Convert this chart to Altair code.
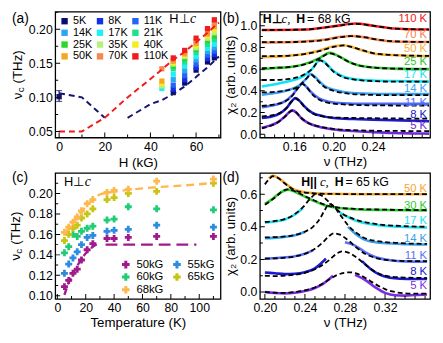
import altair as alt
import pandas as pd

FONT = "Liberation Sans"
SERIF = "Liberation Serif"

# ---------------- panel (a) : nu_c vs H ----------------
A_TEMPS = ["5K", "8K", "11K", "14K", "17K", "21K", "25K", "35K", "40K", "50K", "70K", "110K"]
A_COLORS = ["#0c0c6e", "#1430e6", "#2266f2", "#2ea4f4", "#1ff0f2", "#1fe08e",
            "#2ed62a", "#b6f07e", "#f2ee22", "#f5a623", "#f7864f", "#ee1c1c"]
A_FIELDS = [45, 50, 55, 60, 65, 68]
A_5K = [None, 0.107, 0.121, 0.140, 0.152, 0.158]
A_8K = [None, 0.112, 0.126, 0.144, 0.157, 0.163]
A_11K = [None, 0.118, 0.132, 0.149, 0.162, 0.168]
A_14K = [None, 0.126, 0.139, 0.155, 0.167, 0.173]
A_17K = [0.113, 0.134, 0.146, 0.160, 0.172, 0.178]
A_21K = [None, 0.142, 0.152, 0.166, 0.178, 0.185]
A_25K = [None, 0.146, 0.157, 0.170, 0.183, 0.190]
A_35K = [0.117, 0.149, 0.160, 0.173, 0.187, 0.195]
A_40K = [0.120, 0.151, 0.162, 0.176, 0.190, 0.199]
A_50K = [0.124, 0.153, 0.164, 0.179, 0.193, 0.204]
A_70K = [0.142, 0.155, 0.166, 0.182, 0.196, 0.209]
A_110K = [None, 0.158, 0.169, 0.187, 0.201, 0.214]
A_ROWS = [A_5K, A_8K, A_11K, A_14K, A_17K, A_21K, A_25K, A_35K, A_40K, A_50K, A_70K, A_110K]

A_ZERO_H = [0]
A_ZERO_NU = [0.101]
A_ZERO_LO = [0.094]
A_ZERO_HI = [0.110]

A_NAVY1_H = [0, 10, 20]
A_NAVY1_NU = [0.106, 0.100, 0.070]
A_NAVY2_H = [30, 40, 45, 50, 55, 60, 65, 70]
A_NAVY2_NU = [0.070, 0.090, 0.096, 0.105, 0.116, 0.130, 0.144, 0.160]
A_RED_H = [0, 10, 20, 30, 40, 45, 50, 55, 60, 65, 70]
A_RED_NU = [0.050, 0.050, 0.070, 0.100, 0.127, 0.141, 0.155, 0.167, 0.181, 0.195, 0.210]

# ---------------- panel (b) : chi2 spectra, H perp c, 68 kG ----------------
B_TEMPS = ["5 K", "8 K", "11 K", "14 K", "17 K", "25 K", "50 K", "70 K", "110 K"]
B_COLORS = ["#6d28d9", "#1a1ac8", "#4f6cf7", "#3ea2f2", "#12e2f6", "#2ec82e", "#f7ae3a", "#f7834a", "#f02020"]

B5_NU = [0.127, 0.135, 0.143, 0.150, 0.155, 0.158, 0.162, 0.167, 0.175, 0.185, 0.200, 0.220, 0.240, 0.260, 0.280, 0.297]
B5_OBS = [0.060, 0.080, 0.110, 0.160, 0.205, 0.220, 0.200, 0.150, 0.100, 0.070, 0.045, 0.030, 0.020, 0.012, 0.008, 0.006]
B5_FIT = [0.055, 0.075, 0.108, 0.158, 0.203, 0.218, 0.200, 0.150, 0.100, 0.072, 0.050, 0.038, 0.033, 0.031, 0.030, 0.030]

B8_NU = [0.127, 0.135, 0.145, 0.152, 0.157, 0.161, 0.165, 0.170, 0.178, 0.190, 0.200, 0.220, 0.240, 0.260, 0.280, 0.297]
B8_OBS = [0.150, 0.160, 0.190, 0.240, 0.300, 0.333, 0.310, 0.260, 0.200, 0.165, 0.150, 0.140, 0.135, 0.130, 0.125, 0.120]
B8_FIT = [0.165, 0.172, 0.195, 0.240, 0.298, 0.330, 0.308, 0.255, 0.195, 0.163, 0.155, 0.150, 0.148, 0.146, 0.145, 0.145]

B11_NU = [0.127, 0.140, 0.150, 0.158, 0.164, 0.168, 0.172, 0.178, 0.185, 0.195, 0.210, 0.230, 0.260, 0.297]
B11_OBS = [0.250, 0.270, 0.300, 0.360, 0.430, 0.470, 0.440, 0.380, 0.330, 0.300, 0.285, 0.280, 0.280, 0.280]
B11_FIT = [0.262, 0.275, 0.300, 0.355, 0.430, 0.465, 0.440, 0.370, 0.320, 0.290, 0.275, 0.268, 0.265, 0.264]

B14_NU = [0.127, 0.140, 0.155, 0.165, 0.172, 0.177, 0.182, 0.190, 0.200, 0.210, 0.230, 0.260, 0.297]
B14_OBS = [0.365, 0.380, 0.410, 0.450, 0.510, 0.555, 0.520, 0.450, 0.410, 0.390, 0.375, 0.370, 0.370]
B14_FIT = [0.385, 0.390, 0.410, 0.445, 0.510, 0.550, 0.510, 0.440, 0.400, 0.380, 0.365, 0.360, 0.360]

B17_NU = [0.127, 0.140, 0.155, 0.170, 0.178, 0.186, 0.190, 0.200, 0.210, 0.220, 0.240, 0.260, 0.297]
B17_OBS = [0.440, 0.460, 0.490, 0.540, 0.600, 0.685, 0.670, 0.580, 0.530, 0.510, 0.495, 0.490, 0.485]
B17_FIT = [0.500, 0.500, 0.510, 0.550, 0.600, 0.680, 0.665, 0.575, 0.525, 0.505, 0.490, 0.485, 0.485]

B25_NU = [0.127, 0.140, 0.160, 0.175, 0.185, 0.196, 0.205, 0.215, 0.225, 0.240, 0.260, 0.297]
B25_OBS = [0.600, 0.610, 0.625, 0.660, 0.700, 0.750, 0.720, 0.670, 0.635, 0.615, 0.605, 0.600]
B25_FIT = [0.610, 0.612, 0.625, 0.655, 0.695, 0.745, 0.718, 0.668, 0.635, 0.615, 0.605, 0.602]

B50_NU = [0.127, 0.150, 0.170, 0.185, 0.200, 0.210, 0.220, 0.230, 0.240, 0.260, 0.297]
B50_OBS = [0.710, 0.720, 0.740, 0.770, 0.810, 0.820, 0.800, 0.770, 0.745, 0.730, 0.720]
B50_FIT = [0.720, 0.722, 0.738, 0.765, 0.805, 0.818, 0.800, 0.772, 0.748, 0.730, 0.722]

B70_NU = [0.127, 0.160, 0.190, 0.210, 0.218, 0.230, 0.245, 0.260, 0.297]
B70_OBS = [0.845, 0.850, 0.870, 0.900, 0.905, 0.895, 0.870, 0.855, 0.850]
B70_FIT = [0.848, 0.850, 0.868, 0.898, 0.905, 0.895, 0.872, 0.857, 0.850]

B110_NU = [0.127, 0.170, 0.200, 0.222, 0.240, 0.260, 0.297]
B110_OBS = [0.960, 0.965, 0.995, 1.020, 1.000, 0.975, 0.965]
B110_FIT = [0.960, 0.965, 0.993, 1.018, 1.000, 0.975, 0.965]

B_LABEL_Y = [0.075, 0.175, 0.285, 0.42, 0.545, 0.665, 0.785, 0.913, 1.06]

# ---------------- panel (c) : nu_c vs T ----------------
C_FIELDS = ["50kG", "55kG", "60kG", "65kG", "68kG"]
C_COLORS = ["#a01a8c", "#2d8be0", "#22cc77", "#c8c414", "#ffb84d"]
C_T = [5, 8, 11, 14, 17, 21, 25, 35, 40, 50, 70, 110]
C_50 = [0.109, 0.115, 0.122, 0.126, 0.135, 0.145, 0.151, 0.156, 0.156, 0.157, 0.158, 0.158]
C_55 = [0.122, 0.131, 0.137, 0.143, 0.150, 0.157, 0.159, 0.163, 0.164, 0.165, 0.169, 0.167]
C_60 = [0.142, 0.148, 0.160, 0.158, 0.163, 0.166, 0.168, 0.174, 0.175, 0.187, 0.185, 0.184]
C_65 = [0.154, 0.160, 0.166, 0.169, 0.176, 0.180, 0.185, 0.194, 0.196, 0.200, 0.202, 0.210]
C_68 = [0.162, 0.167, 0.172, 0.177, 0.183, 0.190, 0.194, 0.201, 0.203, 0.204, 0.212, 0.214]

C_ORANGE_T = [5, 10, 15, 20, 25, 30, 35, 45, 60, 80, 100, 108]
C_ORANGE_NU = [0.160, 0.170, 0.179, 0.187, 0.194, 0.199, 0.2005, 0.2025, 0.205, 0.207, 0.209, 0.210]
C_PURPLE_T = [5, 8, 12, 17, 21, 25, 29]
C_PURPLE_NU = [0.101, 0.113, 0.124, 0.136, 0.143, 0.148, 0.151]
C_FLAT_T = [34, 98]
C_FLAT_NU = [0.150, 0.150]

# ---------------- panel (d) : chi2 spectra, H || c, 65 kG ----------------
D_TEMPS = ["5 K", "8 K", "11 K", "14 K", "17 K", "30 K", "50 K"]
D_COLORS = ["#7b2ee0", "#1a1acc", "#5a70f5", "#3aa0e8", "#1de0f0", "#2ecc2e", "#f7a530"]

D5_NU = [0.200, 0.210, 0.220, 0.230, 0.240, 0.250, 0.258, 0.265, 0.272, 0.279, 0.285, 0.292, 0.300, 0.310, 0.320, 0.330, 0.340, 0.350, 0.362]
D5_FIT = [0.000, -0.004, -0.005, 0.000, 0.010, 0.028, 0.052, 0.080, 0.104, 0.118, 0.121, 0.113, 0.088, 0.050, 0.018, 0.000, -0.008, -0.010, -0.010]
D5_OBS1_NU = [0.200, 0.210, 0.220, 0.230, 0.240, 0.250, 0.258, 0.264, 0.268]
D5_OBS1 = [0.000, -0.006, -0.008, -0.004, 0.006, 0.025, 0.050, 0.078, 0.100]
D5_OBS2_NU = [0.290, 0.300, 0.310, 0.320, 0.330, 0.340, 0.350, 0.362]
D5_OBS2 = [0.105, 0.075, 0.030, -0.005, -0.020, -0.022, -0.018, -0.015]

D8_NU = [0.200, 0.210, 0.220, 0.230, 0.240, 0.250, 0.258, 0.265, 0.271, 0.277, 0.284, 0.292, 0.300, 0.310, 0.320, 0.335, 0.350, 0.362]
D8_FIT = [0.100, 0.098, 0.100, 0.106, 0.118, 0.140, 0.168, 0.200, 0.232, 0.250, 0.240, 0.210, 0.170, 0.125, 0.100, 0.090, 0.087, 0.086]
D8_OBS1_NU = [0.200, 0.210, 0.220, 0.230, 0.240, 0.250, 0.256, 0.261]
D8_OBS1 = [0.120, 0.115, 0.110, 0.112, 0.122, 0.145, 0.175, 0.205]
D8_OBS2_NU = [0.297, 0.305, 0.315, 0.325, 0.335, 0.350, 0.362]
D8_OBS2 = [0.190, 0.145, 0.105, 0.088, 0.082, 0.080, 0.080]

D11_NU = [0.200, 0.215, 0.230, 0.240, 0.250, 0.258, 0.264, 0.269, 0.275, 0.283, 0.292, 0.300, 0.310, 0.325, 0.340, 0.362]
D11_FIT = [0.205, 0.208, 0.218, 0.235, 0.265, 0.305, 0.342, 0.360, 0.352, 0.318, 0.270, 0.235, 0.210, 0.195, 0.190, 0.190]
D11_OBS1_NU = [0.200, 0.215, 0.230, 0.240, 0.248]
D11_OBS1 = [0.205, 0.210, 0.220, 0.235, 0.255]
D11_OBS2_NU = [0.280, 0.290, 0.300, 0.310, 0.325, 0.340, 0.362]
D11_OBS2 = [0.305, 0.285, 0.245, 0.215, 0.195, 0.188, 0.186]

D14_NU = [0.200, 0.215, 0.230, 0.240, 0.248, 0.255, 0.260, 0.264, 0.268, 0.275, 0.283, 0.292, 0.300, 0.315, 0.335, 0.362]
D14_FIT = [0.335, 0.338, 0.350, 0.370, 0.400, 0.450, 0.505, 0.540, 0.530, 0.475, 0.410, 0.360, 0.330, 0.310, 0.300, 0.295]
D14_OBS1_NU = [0.200, 0.215, 0.230, 0.240]
D14_OBS1 = [0.330, 0.335, 0.348, 0.368]
D14_OBS2_NU = [0.283, 0.292, 0.300, 0.315, 0.335, 0.362]
D14_OBS2 = [0.400, 0.350, 0.320, 0.302, 0.295, 0.292]

D17_NU = [0.200, 0.215, 0.228, 0.238, 0.245, 0.251, 0.257, 0.265, 0.275, 0.290, 0.310, 0.335, 0.362]
D17_FIT = [0.430, 0.440, 0.470, 0.520, 0.570, 0.600, 0.590, 0.545, 0.490, 0.445, 0.418, 0.405, 0.400]
D17_OBS1_NU = [0.200, 0.210, 0.220, 0.230, 0.238]
D17_OBS1 = [0.425, 0.432, 0.445, 0.475, 0.515]
D17_OBS2_NU = [0.275, 0.290, 0.310, 0.335, 0.362]
D17_OBS2 = [0.485, 0.440, 0.412, 0.400, 0.396]

D30_NU = [0.200, 0.207, 0.213, 0.218, 0.223, 0.230, 0.240, 0.250, 0.260, 0.270, 0.290, 0.320, 0.362]
D30_FIT = [0.535, 0.565, 0.595, 0.620, 0.630, 0.618, 0.588, 0.560, 0.535, 0.520, 0.510, 0.505, 0.502]
D30_OBS = [0.540, 0.568, 0.598, 0.618, 0.628, 0.615, 0.585, 0.556, 0.532, 0.518, 0.508, 0.503, 0.500]

D50_NU = [0.200, 0.204, 0.208, 0.213, 0.220, 0.228, 0.240, 0.260, 0.300, 0.362]
D50_FIT = [0.660, 0.690, 0.710, 0.700, 0.665, 0.630, 0.610, 0.602, 0.600, 0.600]
D50_OBS_NU = [0.204, 0.208, 0.213, 0.220, 0.228, 0.240, 0.260, 0.300, 0.362]
D50_OBS = [0.695, 0.712, 0.702, 0.668, 0.632, 0.612, 0.603, 0.600, 0.600]

D_LABEL_Y = [0.034, 0.124, 0.22, 0.324, 0.434, 0.53, 0.63]

# ---------------- tick positions ----------------
A_XMAJ, A_XMIN = [0, 20, 40, 60], [10, 30, 50, 70]
A_YMAJ, A_YMIN = [0.05, 0.1, 0.15, 0.2], [0.075, 0.125, 0.175, 0.225]
B_XMAJ = [0.16, 0.2, 0.24]
B_XMIN = [0.13, 0.14, 0.15, 0.17, 0.18, 0.19, 0.21, 0.22, 0.23, 0.25, 0.26, 0.27, 0.28, 0.29]
B_YMAJ, B_YMIN = [0.0, 0.2, 0.4, 0.6, 0.8, 1.0], [0.1, 0.3, 0.5, 0.7, 0.9, 1.1]
C_XMAJ, C_XMIN = [0, 20, 40, 60, 80, 100], [10, 30, 50, 70, 90, 110]
C_YMAJ, C_YMIN = [0.1, 0.12, 0.14, 0.16, 0.18, 0.2], [0.11, 0.13, 0.15, 0.17, 0.19, 0.21]
D_XMAJ = [0.2, 0.24, 0.28, 0.32]
D_XMIN = [0.21, 0.22, 0.23, 0.25, 0.26, 0.27, 0.29, 0.30, 0.31, 0.33, 0.34, 0.35, 0.36]
D_YMAJ, D_YMIN = [0.0, 0.2, 0.4, 0.6], [0.1, 0.3, 0.5, 0.7]

# ---------------- helpers ----------------
ONE = pd.DataFrame({"k": [0]})
WA, WB = 168, 173
HT = 128


def mk_axis(title, major, fmt, title_pad, label_pad=3):
    kw = dict(values=major, format=fmt, ticks=False, tickCount=40,
              labelPadding=label_pad, labelOverlap=False)
    if title is None:
        return alt.Axis(title=None, **kw)
    return alt.Axis(title=title, titlePadding=title_pad, **kw)


def ann(text, x, y, size=13, weight="normal", style="normal", align="left", font=FONT, angle=0):
    return alt.Chart(ONE).mark_text(
        text=text, x=x, y=y, fontSize=size, fontWeight=weight, fontStyle=style,
        align=align, baseline="middle", font=font, color="black", angle=angle,
    ).encode(opacity=alt.value(1))


def nu_c_title(x, ymid):
    # rotated "ν_c (THz)" with a subscript c
    y0 = ymid + 25
    return [
        ann("ν", x, y0, size=13.5, angle=270),
        ann("c", x + 3.5, y0 - 7, size=10, angle=270),
        ann("(THz)", x, y0 - 16, size=13.5, angle=270),
    ]


def inner_ticks(xenc, yenc, xmaj, xmin, ymaj, ymin, h):
    out = []
    for vals, size in ((xmaj, 10), (xmin, 6)):
        out.append(alt.Chart(pd.DataFrame({"x": vals})).mark_tick(
            orient="vertical", size=size, thickness=1, color="black", clip=True, opacity=1
        ).encode(x=xenc, y=alt.value(h)))
    for vals, size in ((ymaj, 10), (ymin, 6)):
        out.append(alt.Chart(pd.DataFrame({"y": vals})).mark_tick(
            orient="horizontal", size=size, thickness=1, color="black", clip=True, opacity=1
        ).encode(y=yenc, x=alt.value(0)))
    return out


def frame_lines(pairs):
    rows = []
    for tag, xs, ys in pairs:
        for xv, yv in zip(xs, ys):
            rows.append({"x": xv, "y": yv, "seg": tag})
    return pd.DataFrame(rows)


# ---------------- build (a) ----------------
rows = []
for t, vals in zip(A_TEMPS, A_ROWS):
    for h, v in zip(A_FIELDS, vals):
        if v is not None:
            rows.append({"x": h, "y": v, "T": t})
df_a = pd.DataFrame(rows)

xa = alt.X("x:Q", scale=alt.Scale(domain=[-1.7, 70.7], nice=False, zero=False),
           axis=mk_axis("H (kG)", A_XMAJ, "d", 3))
ya = alt.Y("y:Q", scale=alt.Scale(domain=[0.041, 0.226], nice=False, zero=False),
           axis=mk_axis(None, A_YMAJ, ".2f", 4))

squares = alt.Chart(df_a).mark_square(size=28, opacity=1).encode(
    x=xa, y=ya,
    color=alt.Color("T:N", scale=alt.Scale(domain=A_TEMPS, range=A_COLORS), sort=A_TEMPS,
                    legend=alt.Legend(orient="none", legendX=4, legendY=4, columns=3, direction="horizontal",
                                      title=None, symbolType="square", symbolSize=42, symbolStrokeWidth=0,
                                      labelFont=FONT, labelFontSize=11, labelOffset=3,
                                      columnPadding=2, rowPadding=0, padding=0)),
)
navy = alt.Chart(frame_lines([("n1", A_NAVY1_H, A_NAVY1_NU), ("n2", A_NAVY2_H, A_NAVY2_NU)])).mark_line(
    color="#15156e", strokeDash=[6, 4], strokeWidth=2).encode(x="x:Q", y="y:Q", detail="seg:N")
red = alt.Chart(frame_lines([("r", A_RED_H, A_RED_NU)])).mark_line(
    color="#f01c1c", strokeDash=[6, 4], strokeWidth=2).encode(x="x:Q", y="y:Q")
df_err = pd.DataFrame({"x": A_ZERO_H, "y": A_ZERO_NU, "lo": A_ZERO_LO, "hi": A_ZERO_HI})
err = alt.Chart(df_err).mark_rule(color="#15156e", strokeWidth=1.2).encode(x="x:Q", y="lo:Q", y2="hi:Q")
cap_lo = alt.Chart(df_err).mark_tick(color="#15156e", orient="horizontal", size=6, thickness=1.2).encode(x="x:Q", y="lo:Q")
cap_hi = alt.Chart(df_err).mark_tick(color="#15156e", orient="horizontal", size=6, thickness=1.2).encode(x="x:Q", y="hi:Q")
pt0 = alt.Chart(df_err).mark_square(size=30, color="#15156e", opacity=1).encode(x="x:Q", y="y:Q")

panel_a = alt.layer(
    squares, navy, red, err, cap_lo, cap_hi, pt0,
    *inner_ticks(xa, ya, A_XMAJ, A_XMIN, A_YMAJ, A_YMIN, HT),
    *nu_c_title(-38, HT / 2),
    ann("H⊥", 116, 8, size=13),
    ann("c", 137, 8, size=14, style="italic", font=SERIF),
    ann("(a)", -44, 8, size=14),
).properties(width=WA, height=HT)

# ---------------- build (b) ----------------
b_sets = [(B5_NU, B5_OBS, B5_FIT), (B8_NU, B8_OBS, B8_FIT), (B11_NU, B11_OBS, B11_FIT),
          (B14_NU, B14_OBS, B14_FIT), (B17_NU, B17_OBS, B17_FIT), (B25_NU, B25_OBS, B25_FIT),
          (B50_NU, B50_OBS, B50_FIT), (B70_NU, B70_OBS, B70_FIT), (B110_NU, B110_OBS, B110_FIT)]
obs_rows, fit_rows = [], []
for t, (nu, ob, ft) in zip(B_TEMPS, b_sets):
    for i, (a, b, c) in enumerate(zip(nu, ob, ft)):
        obs_rows.append({"x": a, "y": b, "T": t, "seg": t, "o": i})
        fit_rows.append({"x": a, "y": c, "T": t, "o": i})
df_bo, df_bf = pd.DataFrame(obs_rows), pd.DataFrame(fit_rows)
df_bl = pd.DataFrame({"T": B_TEMPS, "y": B_LABEL_Y})

xb = alt.X("x:Q", scale=alt.Scale(domain=[0.125, 0.298], nice=False, zero=False),
           axis=mk_axis("ν (THz)", B_XMAJ, ".2f", 2))
yb = alt.Y("y:Q", scale=alt.Scale(domain=[-0.03, 1.13], nice=False, zero=False),
           axis=mk_axis("χ₂ (arb. units)", B_YMAJ, ".1f", 2))
bcol = alt.Color("T:N", scale=alt.Scale(domain=B_TEMPS, range=B_COLORS), legend=None)

b_obs = alt.Chart(df_bo).mark_line(strokeWidth=2.6, interpolate="monotone").encode(
    x=xb, y=yb, color=bcol, detail="seg:N", order="o:Q")
b_fit = alt.Chart(df_bf).mark_line(color="black", strokeDash=[5, 3], strokeWidth=1.8, interpolate="monotone").encode(
    x="x:Q", y="y:Q", detail="T:N", order="o:Q")
b_lab = alt.Chart(df_bl).mark_text(align="right", baseline="middle", fontSize=11.5, font=FONT).encode(
    x=alt.value(WB - 3), y="y:Q", text="T:N", color=bcol)

panel_b = alt.layer(
    b_obs, b_fit, b_lab,
    *inner_ticks(xb, yb, B_XMAJ, B_XMIN, B_YMAJ, B_YMIN, HT),
    ann("H⊥", 3, 8, size=12.5, weight="bold"),
    ann("c,", 22, 8, size=13, style="italic", font=SERIF),
    ann("H", 37, 8, size=12.5, weight="bold"),
    ann("= 68 kG", 48, 8, size=12.5),
    ann("(b)", -38, 8, size=14),
).properties(width=WB, height=HT)

# ---------------- build (c) ----------------
rows = []
for f, vals in zip(C_FIELDS, [C_50, C_55, C_60, C_65, C_68]):
    for t, v in zip(C_T, vals):
        rows.append({"x": t, "y": v, "F": f})
df_c = pd.DataFrame(rows)

xc = alt.X("x:Q", scale=alt.Scale(domain=[-1.5, 115], nice=False, zero=False),
           axis=mk_axis("Temperature (K)", C_XMAJ, "d", 2))
yc = alt.Y("y:Q", scale=alt.Scale(domain=[0.097, 0.22], nice=False, zero=False),
           axis=mk_axis(None, C_YMAJ, ".2f", 4))

c_pts = alt.Chart(df_c).mark_point(shape="cross", filled=True, size=50, opacity=1).encode(
    x=xc, y=yc,
    color=alt.Color("F:N", scale=alt.Scale(domain=C_FIELDS, range=C_COLORS), sort=C_FIELDS,
                    legend=alt.Legend(orient="none", legendX=66, legendY=87, columns=2, direction="horizontal",
                                      title=None, symbolType="cross", symbolSize=60, symbolStrokeWidth=0,
                                      labelFont=FONT, labelFontSize=11.5, labelOffset=5,
                                      columnPadding=8, rowPadding=0, padding=0)),
)
c_orange = alt.Chart(frame_lines([("o", C_ORANGE_T, C_ORANGE_NU)])).mark_line(
    color="#ffb84d", strokeDash=[8, 5], strokeWidth=2.4, interpolate="monotone").encode(x="x:Q", y="y:Q")
c_purple = alt.Chart(frame_lines([("p", C_PURPLE_T, C_PURPLE_NU)])).mark_line(
    color="#a01a8c", strokeDash=[7, 4], strokeWidth=2.4, interpolate="monotone").encode(x="x:Q", y="y:Q")
c_flat = alt.Chart(frame_lines([("f", C_FLAT_T, C_FLAT_NU)])).mark_line(
    color="#a01a8c", strokeDash=[12, 6], strokeWidth=2.4).encode(x="x:Q", y="y:Q")

panel_c = alt.layer(
    c_orange, c_purple, c_flat, c_pts,
    *inner_ticks(xc, yc, C_XMAJ, C_XMIN, C_YMAJ, C_YMIN, HT),
    *nu_c_title(-40, HT / 2),
    ann("H⊥", 9, 9, size=13),
    ann("c", 30, 9, size=14, style="italic", font=SERIF),
    ann("(c)", -44, 5, size=14),
).properties(width=WA, height=HT)

# ---------------- build (d) ----------------
d_fit_sets = [(D5_NU, D5_FIT), (D8_NU, D8_FIT), (D11_NU, D11_FIT), (D14_NU, D14_FIT),
              (D17_NU, D17_FIT), (D30_NU, D30_FIT), (D50_NU, D50_FIT)]
d_obs_sets = [
    [(D5_OBS1_NU, D5_OBS1), (D5_OBS2_NU, D5_OBS2)],
    [(D8_OBS1_NU, D8_OBS1), (D8_OBS2_NU, D8_OBS2)],
    [(D11_OBS1_NU, D11_OBS1), (D11_OBS2_NU, D11_OBS2)],
    [(D14_OBS1_NU, D14_OBS1), (D14_OBS2_NU, D14_OBS2)],
    [(D17_OBS1_NU, D17_OBS1), (D17_OBS2_NU, D17_OBS2)],
    [(D30_NU, D30_OBS)],
    [(D50_OBS_NU, D50_OBS)],
]
obs_rows, fit_rows = [], []
for t, (nu, ft) in zip(D_TEMPS, d_fit_sets):
    for i, (a, c) in enumerate(zip(nu, ft)):
        fit_rows.append({"x": a, "y": c, "T": t, "o": i})
for t, segs in zip(D_TEMPS, d_obs_sets):
    for s, (nu, ob) in enumerate(segs):
        for i, (a, b) in enumerate(zip(nu, ob)):
            obs_rows.append({"x": a, "y": b, "T": t, "seg": "%s-%d" % (t, s), "o": i})
df_do, df_df = pd.DataFrame(obs_rows), pd.DataFrame(fit_rows)
df_dl = pd.DataFrame({"T": D_TEMPS, "y": D_LABEL_Y})

xd = alt.X("x:Q", scale=alt.Scale(domain=[0.195, 0.365], nice=False, zero=False),
           axis=mk_axis("ν (THz)", D_XMAJ, ".2f", 2))
yd = alt.Y("y:Q", scale=alt.Scale(domain=[-0.042, 0.73], nice=False, zero=False),
           axis=mk_axis("χ₂ (arb. units)", D_YMAJ, ".1f", 2))
dcol = alt.Color("T:N", scale=alt.Scale(domain=D_TEMPS, range=D_COLORS), legend=None)

d_obs = alt.Chart(df_do).mark_line(strokeWidth=2.6, interpolate="monotone").encode(
    x=xd, y=yd, color=dcol, detail="seg:N", order="o:Q")
d_fit = alt.Chart(df_df).mark_line(color="black", strokeDash=[5, 3], strokeWidth=1.8, interpolate="monotone").encode(
    x="x:Q", y="y:Q", detail="T:N", order="o:Q")
d_lab = alt.Chart(df_dl).mark_text(align="right", baseline="middle", fontSize=11.5, font=FONT).encode(
    x=alt.value(WB - 3), y="y:Q", text="T:N", color=dcol)

panel_d = alt.layer(
    d_obs, d_fit, d_lab,
    *inner_ticks(xd, yd, D_XMAJ, D_XMIN, D_YMAJ, D_YMIN, HT),
    ann("H||", 42, 9, size=12.5, weight="bold"),
    ann("c,", 61, 9, size=13, style="italic", font=SERIF),
    ann("H", 76, 9, size=12.5, weight="bold"),
    ann("= 65 kG", 87, 9, size=12.5),
    ann("(d)", -38, 5, size=14),
).properties(width=WB, height=HT)

chart = alt.concat(
    panel_a, panel_b, panel_c, panel_d, columns=2,
    spacing={"row": 36, "column": 40}, bounds="flush",
).resolve_scale(
    color="independent"
).properties(
    padding={"left": 0, "top": 0, "right": 0, "bottom": 0}, background="white"
).configure_view(
    stroke="black", strokeWidth=1.3
).configure_axis(
    labelFont=FONT, titleFont=FONT, labelFontSize=12.5, titleFontSize=13.5,
    titleFontWeight="normal", labelColor="black", titleColor="black",
    grid=False, domain=False,
)

chart.save("out.html", embed_options={"renderer": "svg", "actions": False})
